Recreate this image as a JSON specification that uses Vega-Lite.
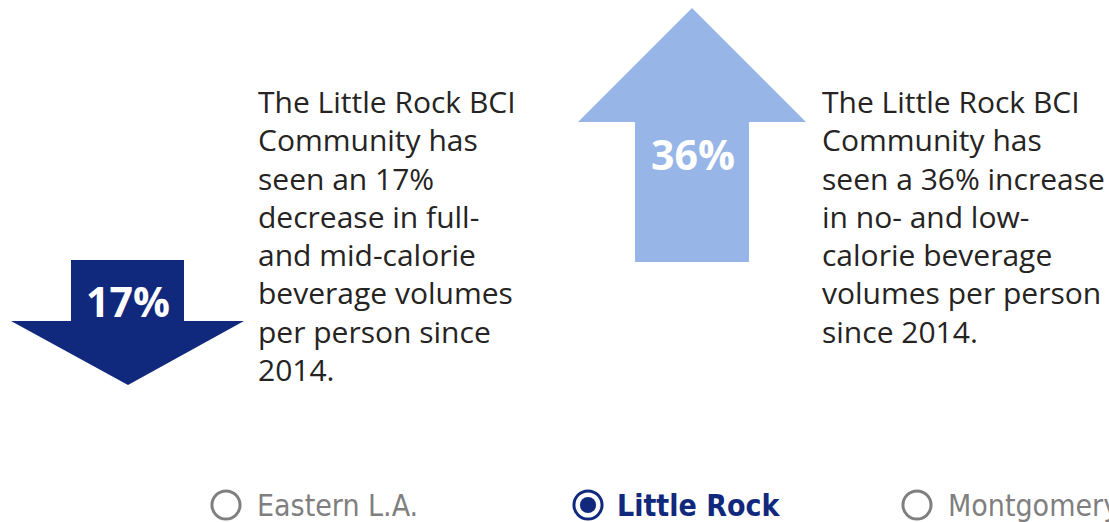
{
  "$schema": "https://vega.github.io/schema/vega-lite/v6.json",
  "width": 1109,
  "height": 522,
  "padding": 0,
  "autosize": {"type": "none"},
  "background": "white",
  "config": {"view": {"stroke": null}},
  "datasets": {
    "changes": [
      {"category": "full", "change": -17, "label": "17%"},
      {"category": "low", "change": 36, "label": "36%"}
    ],
    "lines": [
      {"category": "full", "line": 0, "text": "The Little Rock BCI"},
      {"category": "full", "line": 1, "text": "Community has"},
      {"category": "full", "line": 2, "text": "seen an 17%"},
      {"category": "full", "line": 3, "text": "decrease in full-"},
      {"category": "full", "line": 4, "text": "and mid-calorie"},
      {"category": "full", "line": 5, "text": "beverage volumes"},
      {"category": "full", "line": 6, "text": "per person since"},
      {"category": "full", "line": 7, "text": "2014."},
      {"category": "low", "line": 0, "text": "The Little Rock BCI"},
      {"category": "low", "line": 1, "text": "Community has"},
      {"category": "low", "line": 2, "text": "seen a 36% increase"},
      {"category": "low", "line": 3, "text": "in no- and low-"},
      {"category": "low", "line": 4, "text": "calorie beverage"},
      {"category": "low", "line": 5, "text": "volumes per person"},
      {"category": "low", "line": 6, "text": "since 2014."}
    ],
    "communities": [
      {"community": "Eastern L.A.", "order": 0, "state": "unselected"},
      {"community": "Little Rock", "order": 1, "state": "selected"},
      {"community": "Montgomery", "order": 2, "state": "unselected"}
    ]
  },
  "layer": [
    {
      "data": {"name": "changes"},
      "mark": {"type": "point", "filled": true, "opacity": 1, "size": 4, "strokeWidth": 0},
      "encoding": {
        "x": {"field": "category", "type": "nominal", "axis": null,
              "scale": {"type": "point", "domain": ["full", "low"], "range": [128, 692], "padding": 0}},
        "y": {"field": "change", "type": "quantitative", "axis": null,
              "scale": {"domain": [-17, 36], "range": [322, 135], "zero": false, "nice": false}},
        "shape": {"field": "category", "type": "nominal", "legend": null,
                  "scale": {"domain": ["full", "low"],
                            "range": ["M-57,-62L56,-62L56,-1L116,-1L0,63L-117,-1L-57,-1Z",
                                      "M0,-127L114,-13L57,-13L57,127L-57,127L-57,-13L-114,-13Z"]}},
        "color": {"field": "category", "type": "nominal", "legend": null,
                  "scale": {"domain": ["full", "low"], "range": ["#11297D", "#97B5E6"]}}
      }
    },
    {
      "data": {"name": "changes"},
      "mark": {"type": "text", "align": "center", "baseline": "alphabetic", "font": "Open Sans", "fontWeight": "bold", "fontSize": 41, "color": "white"},
      "encoding": {
        "x": {"field": "category", "type": "nominal", "axis": null,
              "scale": {"type": "point", "domain": ["full", "low"], "range": [128, 693], "padding": 0}},
        "y": {"field": "change", "type": "quantitative", "axis": null,
              "scale": {"domain": [-17, 36], "range": [317, 170], "zero": false, "nice": false}},
        "text": {"field": "label"}
      }
    },
    {
      "data": {"name": "lines"},
      "mark": {"type": "text", "align": "left", "baseline": "alphabetic", "font": "Open Sans", "fontSize": 30, "color": "#252423"},
      "encoding": {
        "x": {"field": "category", "type": "nominal", "axis": null,
              "scale": {"type": "point", "domain": ["full", "low"], "range": [258, 822], "padding": 0}},
        "y": {"field": "line", "type": "quantitative", "axis": null,
              "scale": {"domain": [0, 7], "range": [113, 381], "zero": false, "nice": false}},
        "text": {"field": "text"}
      }
    },
    {
      "data": {"name": "communities"},
      "mark": {"type": "point", "shape": "circle", "filled": false, "size": 790, "strokeWidth": 3, "opacity": 1, "fill": "white"},
      "encoding": {
        "x": {"field": "order", "type": "quantitative", "axis": null,
              "scale": {"domain": [0, 1, 2], "range": [226, 588, 917], "zero": false, "nice": false}},
        "y": {"value": 505},
        "stroke": {"field": "state", "type": "nominal", "legend": null,
                   "scale": {"domain": ["selected", "unselected"], "range": ["#11297D", "#7F7F7F"]}}
      }
    },
    {
      "data": {"name": "communities"},
      "transform": [{"filter": "datum.state === 'selected'"}],
      "mark": {"type": "point", "shape": "circle", "filled": true, "size": 260, "opacity": 1, "color": "#11297D"},
      "encoding": {
        "x": {"field": "order", "type": "quantitative", "axis": null,
              "scale": {"domain": [0, 1, 2], "range": [226, 588, 917], "zero": false, "nice": false}},
        "y": {"value": 505}
      }
    },
    {
      "data": {"name": "communities"},
      "transform": [{"filter": "datum.state === 'unselected'"}],
      "mark": {"type": "text", "align": "left", "baseline": "alphabetic", "dx": 31, "font": "Liberation Sans Narrow, DejaVu Sans Condensed, sans-serif", "fontSize": 30, "color": "#7F7F7F"},
      "encoding": {
        "x": {"field": "order", "type": "quantitative", "axis": null,
              "scale": {"domain": [0, 1, 2], "range": [226, 588, 917], "zero": false, "nice": false}},
        "y": {"value": 516},
        "text": {"field": "community"}
      }
    },
    {
      "data": {"name": "communities"},
      "transform": [{"filter": "datum.state === 'selected'"}],
      "mark": {"type": "text", "align": "left", "baseline": "alphabetic", "dx": 29, "font": "Liberation Sans Narrow, DejaVu Sans Condensed, sans-serif", "fontWeight": "bold", "fontSize": 30, "color": "#11297D"},
      "encoding": {
        "x": {"field": "order", "type": "quantitative", "axis": null,
              "scale": {"domain": [0, 1, 2], "range": [226, 588, 917], "zero": false, "nice": false}},
        "y": {"value": 516},
        "text": {"field": "community"}
      }
    }
  ],
  "resolve": {"scale": {"x": "independent", "y": "independent", "color": "independent", "shape": "independent", "stroke": "independent"}}
}
